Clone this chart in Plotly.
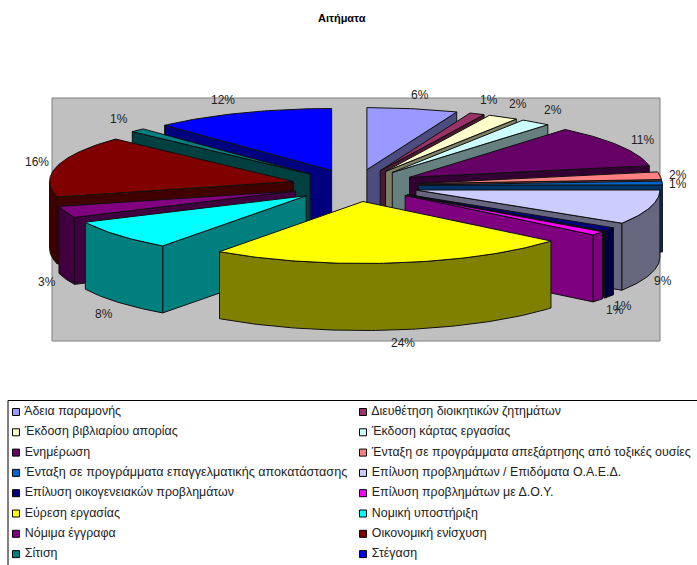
import math
import plotly.graph_objects as go

TITLE = "Αιτήματα"
categories = ["Άδεια παραμονής", "Διευθέτηση διοικητικών ζητημάτων", "Έκδοση βιβλιαρίου απορίας",
              "Έκδοση κάρτας εργασίας", "Ενημέρωση", "Ένταξη σε προγράμματα απεξάρτησης από τοξικές ουσίες",
              "Ένταξη σε προγράμματα επαγγελματικής αποκατάστασης", "Επίλυση προβλημάτων / Επιδόματα Ο.Α.Ε.Δ.",
              "Επίλυση οικογενειακών προβλημάτων", "Επίλυση προβλημάτων με Δ.Ο.Υ.", "Εύρεση εργασίας",
              "Νομική υποστήριξη", "Νόμιμα έγγραφα", "Οικονομική ενίσχυση", "Σίτιση", "Στέγαση"]
shares = [6, 1, 2, 2, 11, 2, 1, 9, 1, 1, 24, 8, 3, 16, 1, 12]
colors = ["#9999FF", "#993366", "#FFFFCC", "#CCFFFF", "#660066", "#FF8080", "#0066CC", "#CCCCFF",
          "#000080", "#FF00FF", "#FFFF00", "#00FFFF", "#800080", "#800000", "#008080", "#0000FF"]

# layout geometry (pixels)
W, H = 697, 565
CX, CY, RX, RY, DEPTH, EXPLODE = 355, 185.5, 244, 62, 67, 0.26
LABEL_XY = [(420, 95), (489, 100), (518, 104), (553, 110), (642, 140), (678, 175), (678, 184), (663, 281),
            (623, 306), (615, 310), (403, 343), (104, 314), (47, 282), (37, 162), (119, 119), (223, 100)]


def darker(c):
    return "#" + "".join(f"{int(c[i:i+2], 16) // 2:02X}" for i in (1, 3, 5))


def arc(ax, ay, a0, a1, dz=0.0):
    n = max(2, int((a1 - a0) * 60) + 2)
    pts = [a0 + (a1 - a0) * k / (n - 1) for k in range(n)]
    return [ax + RX * math.sin(a) for a in pts], [ay - RY * math.cos(a) + dz for a in pts]


fig = go.Figure()
total = sum(shares)
slices, acc = [], 0
for i, v in enumerate(shares):
    a0 = acc / total * 2 * math.pi
    acc += v
    a1 = acc / total * 2 * math.pi
    slices.append((i, a0, a1, (a0 + a1) / 2))


def poly(xs, ys, color, name):
    fig.add_trace(go.Scatter(x=xs + xs[:1], y=ys + ys[:1], mode="lines", fill="toself", fillcolor=color,
                             line=dict(color="#101010", width=1), hoverinfo="skip", showlegend=False, name=name))


for i, a0, a1, mid in sorted(slices, key=lambda s: -math.cos(s[3])):
    c, side, name = colors[i], darker(colors[i]), categories[i]
    ax = CX + EXPLODE * RX * math.sin(mid)
    ay = CY - EXPLODE * RY * math.cos(mid)
    for a, visible in ((a0, math.sin(a0) < 0), (a1, math.sin(a1) > 0)):
        if visible:
            ex, ey = ax + RX * math.sin(a), ay - RY * math.cos(a)
            poly([ax, ex, ex, ax], [ay, ey, ey + DEPTH, ay + DEPTH], side, name)
    s0, s1 = max(a0, math.pi / 2), min(a1, 3 * math.pi / 2)
    if s1 > s0:
        tx, ty = arc(ax, ay, s0, s1)
        bx, by = arc(ax, ay, s0, s1, DEPTH)
        poly(tx + bx[::-1], ty + by[::-1], side, name)
    tx, ty = arc(ax, ay, a0, a1)
    poly([ax] + tx, [ay] + ty, c, name)

# legend, drawn as a two-column marker/text trace
ROW_Y0, ROW_STEP, COL_X = 412, 20.3, (16, 363)
LEGEND_FONT = [12.6 if len(c) == 50 else 12.4 for c in categories]
fig.add_trace(go.Scatter(
    x=[COL_X[i % 2] for i in range(len(categories))],
    y=[ROW_Y0 + ROW_STEP * (i // 2) for i in range(len(categories))],
    mode="markers+text", text=[" " + c for c in categories], textposition="middle right",
    textfont=dict(family="Liberation Sans", size=LEGEND_FONT, color="#222222"),
    marker=dict(symbol="square", size=7, color=colors, line=dict(color="#000000", width=1)),
    hoverinfo="skip", showlegend=False, cliponaxis=False))

annotations = [dict(x=342, y=18, text=f"<b>{TITLE}</b>", showarrow=False, xref="x", yref="y",
                    font=dict(family="Liberation Sans", size=11, color="#000000"))]
for v, (lx, ly) in zip(shares, LABEL_XY):
    annotations.append(dict(x=lx, y=ly, text=f"{v}%", showarrow=False, xref="x", yref="y",
                            font=dict(family="Liberation Sans", size=12, color="#222222")))

fig.update_layout(
    width=W, height=H, margin=dict(l=0, r=0, t=0, b=0), showlegend=False,
    paper_bgcolor="#FFFFFF", plot_bgcolor="#FFFFFF",
    xaxis=dict(range=[0, W], visible=False, fixedrange=True),
    yaxis=dict(range=[H, 0], visible=False, fixedrange=True),
    annotations=annotations,
    shapes=[
        dict(type="rect", x0=52, y0=98, x1=660, y1=341, xref="x", yref="y", layer="below",
             fillcolor="#C0C0C0", line=dict(color="#808080", width=1)),
        dict(type="rect", x0=8, y0=400.5, x1=710, y1=575, xref="x", yref="y", layer="below",
             fillcolor="#FFFFFF", line=dict(color="#000000", width=1)),
    ],
)
fig.write_html("out.html", config=dict(displayModeBar=False),
               post_script="document.body.style.margin='0';document.body.style.overflow='hidden';")
